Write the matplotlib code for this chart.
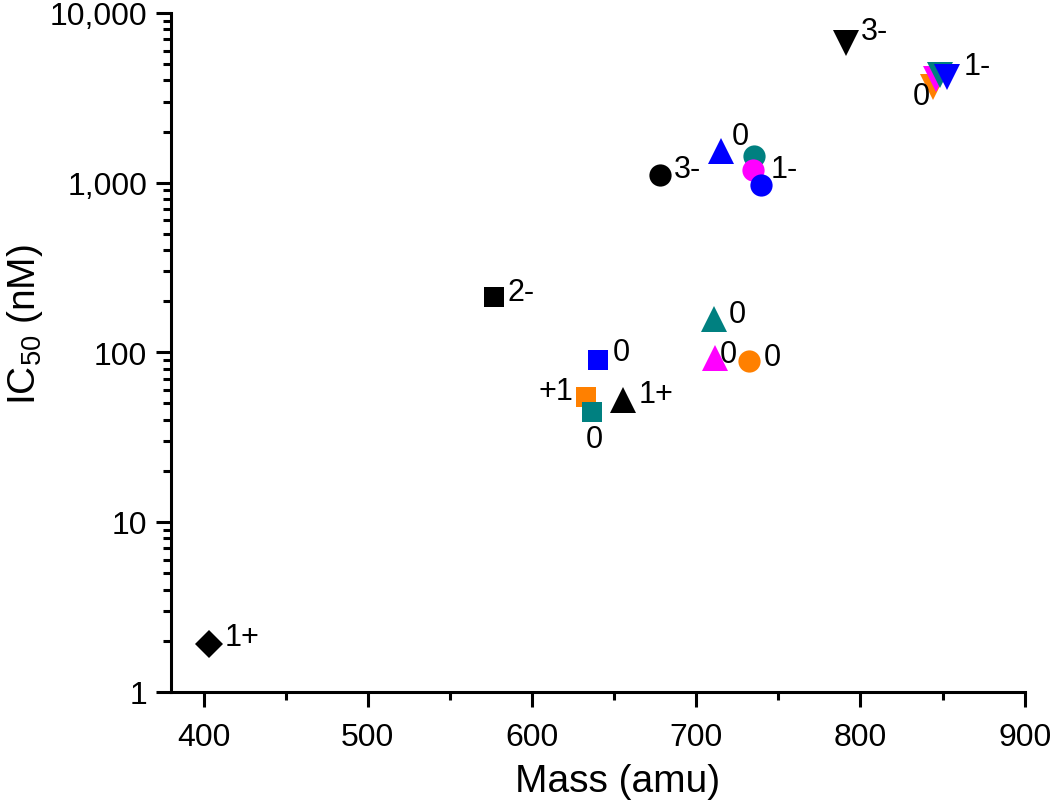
import matplotlib
matplotlib.use("Agg")
import matplotlib.pyplot as plt
from matplotlib.ticker import FixedLocator, FuncFormatter, LogLocator, NullFormatter, MultipleLocator

plt.rcParams['font.family'] = ['Liberation Sans', 'DejaVu Sans']
plt.rcParams['mathtext.default'] = 'regular'

# data
mass = [403.5, 576.6, 640, 633, 636.3, 655.3, 710.7, 711.4, 732,
        678, 715, 735, 734.6, 739.4, 791.3, 844.3, 846.1, 848.3, 852.9]
ic50 = [1.91, 212, 90, 54.5, 44.5, 52.4, 157, 92.6, 88.9,
        1109, 1535, 1435, 1186, 968, 6650, 3660, 4076, 4306, 4190]
markers = ['D', 's', 's', 's', 's', '^', '^', '^', 'o',
           'o', '^', 'o', 'o', 'o', 'v', 'v', 'v', 'v', 'v']
colors = ['black', 'black', 'blue', '#ff8000', 'teal', 'black', 'teal', 'magenta', '#ff8000',
          'black', 'blue', 'teal', 'magenta', 'blue', 'black', '#ff8000', 'magenta', 'teal', 'blue']
labels = ['1+', '2-', '0', '+1', '0', '1+', '0', '0', '0',
          '3-', '0', '', '1-', '', '3-', '0', '', '', '1-']
# label offsets in pixels and alignment
offsets = [(15, 7), (14, 5), (15, 8), (-13, 6), (3, -27), (16, 6), (15, 5), (5, 4), (15, 4),
           (14, 6), (11, 15), (0, 0), (18, 1), (0, 0), (15, 12), (-3, -9), (0, 0), (0, 0), (16, 11)]
haligns = ['left', 'left', 'left', 'right', 'center', 'left', 'left', 'left', 'left',
           'left', 'left', 'left', 'left', 'left', 'left', 'right', 'left', 'left', 'left']

msize = {'D': 14, 's': 15, '^': 19, 'v': 19, 'o': 16}

y_ticks = [1, 10, 100, 1000, 10000]
x_ticks = [400, 500, 600, 700, 800, 900]

fig = plt.figure(figsize=(10.5, 8.03), dpi=100)
ax = fig.add_axes([0.1626, 0.1374, 0.8133, 0.8452])

for i in range(len(mass)):
    ax.plot(mass[i], ic50[i], marker=markers[i], color=colors[i], markersize=msize[markers[i]],
            linestyle='none', markeredgewidth=0, zorder=3)

for i in range(len(mass)):
    if labels[i] == '':
        continue
    ax.annotate(labels[i], (mass[i], ic50[i]), xytext=offsets[i], textcoords='offset pixels',
                ha=haligns[i], va='center', fontsize=22, zorder=4)

ax.set_yscale('log')
ax.set_xlim(380, 900)
ax.set_ylim(1, 10000)

ax.yaxis.set_major_locator(FixedLocator(y_ticks))
ax.yaxis.set_major_formatter(FuncFormatter(lambda v, p: '{:,.0f}'.format(v)))
ax.yaxis.set_minor_locator(LogLocator(base=10, subs=range(2, 10)))
ax.yaxis.set_minor_formatter(NullFormatter())
ax.xaxis.set_major_locator(FixedLocator(x_ticks))
ax.xaxis.set_minor_locator(MultipleLocator(50))

for side in ['top', 'right']:
    ax.spines[side].set_visible(False)
for side in ['left', 'bottom']:
    ax.spines[side].set_linewidth(2.2)

ax.tick_params(which='major', direction='out', length=11, width=2.2, labelsize=23)
ax.tick_params(which='minor', direction='out', length=6, width=2.2)
ax.tick_params(axis='x', which='major', pad=11)
ax.tick_params(axis='y', which='major', pad=6)

ax.set_xlabel('Mass (amu)', fontsize=28, va='center')
ax.set_ylabel('IC$_{50}$ (nM)', fontsize=28, va='center')
ax.xaxis.set_label_coords(0.523, -0.1316)
ax.yaxis.set_label_coords(-0.1706, 0.542)

fig.savefig('out.png', dpi=100)
